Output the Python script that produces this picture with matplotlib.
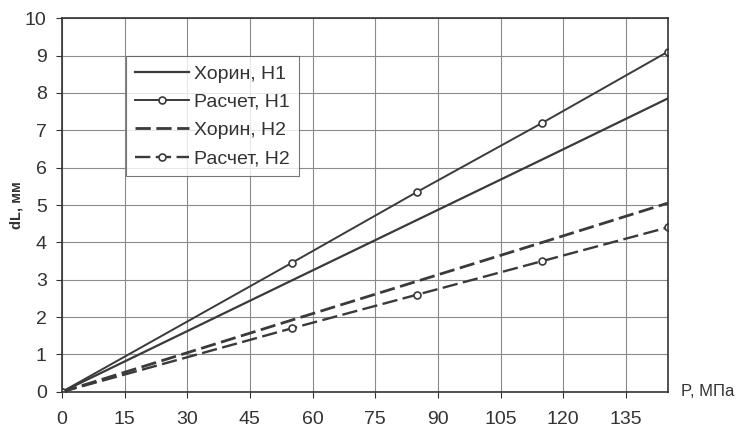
import matplotlib
matplotlib.use('Agg')
import matplotlib.pyplot as plt

plt.rcParams['font.family'] = ['Liberation Sans', 'DejaVu Sans']

# pressure, MPa
p = [0, 55, 85, 115, 145]

# elongation dL, mm
horin_h1 = [0, 2.98, 4.60, 6.22, 7.85]
calc_h1 = [0, 3.45, 5.35, 7.20, 9.10]
horin_h2 = [0, 1.92, 2.96, 4.00, 5.05]
calc_h2 = [0, 1.70, 2.60, 3.50, 4.40]

x_ticks = [0, 15, 30, 45, 60, 75, 90, 105, 120, 135]

color = '#3a3a3a'

fig = plt.figure(figsize=(7.46, 4.33), dpi=100)
ax = fig.add_axes([0.083, 0.095, 0.812, 0.863])

ax.plot(p, horin_h1, color=color, lw=1.6, label='Хорин, Н1')
ax.plot(p, calc_h1, color=color, lw=1.4, marker='o', ms=5,
        mfc='white', mec=color, mew=1.2, label='Расчет, Н1')
ax.plot(p, horin_h2, color=color, lw=2.0, dashes=(5.5, 2), label='Хорин, Н2')
ax.plot(p, calc_h2, color=color, lw=1.7, dashes=(6.5, 2.3), marker='o', ms=5,
        mfc='white', mec=color, mew=1.2, label='Расчет, Н2')

ax.set_xlim(0, 145)
ax.set_ylim(0, 10)
ax.set_xticks(x_ticks)
ax.set_yticks(range(0, 11))
ax.grid(True, color='#8a8a8a', lw=0.8)
ax.set_axisbelow(True)
ax.tick_params(labelsize=14, colors='#333333', length=4, pad=7)
ax.tick_params(axis='x', pad=10)
for s in ax.spines.values():
    s.set_color('#333333')
    s.set_linewidth(1.2)

ax.set_ylabel('dL, мм', fontsize=10.5, fontweight='bold', color='#333333', labelpad=1)
ax.text(1.022, 0.0, 'P, МПа', transform=ax.transAxes, fontsize=12,
        color='#333333', ha='left', va='center')

leg = ax.legend(loc='upper left', bbox_to_anchor=(0.106, 0.898), fontsize=14,
                frameon=True, fancybox=False, edgecolor='#555555',
                handlelength=2.8, handletextpad=0.25, borderpad=0.45,
                labelspacing=0.55, borderaxespad=0)
leg.get_frame().set_linewidth(0.8)
for t in leg.get_texts():
    t.set_color('#333333')

fig.savefig('out.png', dpi=100)
